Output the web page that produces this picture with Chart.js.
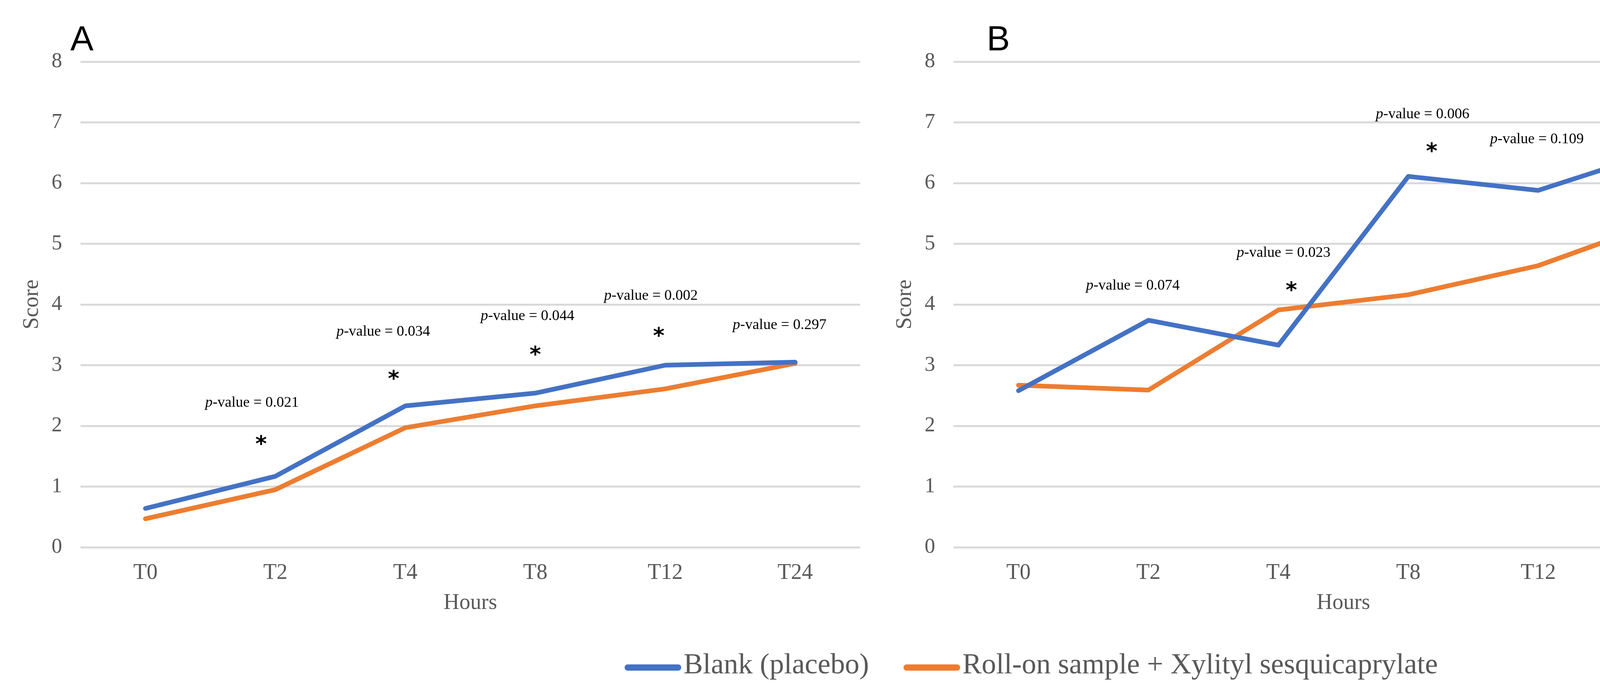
<!DOCTYPE html>
<html>
<head>
<meta charset="utf-8">
<title>Score over hours</title>
<script src="https://cdn.jsdelivr.net/npm/chart.js@4.4.1/dist/chart.umd.min.js"></script>
<style>
  body { margin: 0; width: 4470px; height: 1765px; background: #fff; overflow: hidden; position: relative; }
  .panel { position: absolute; top: 0; width: 2235px; height: 1600px; }
  .letter { position: absolute; top: 54px; font: 89px/89px "Liberation Sans", sans-serif; color: #000; }
  #legend { position: absolute; left: 1599px; top: 1655px; display: flex; align-items: center;
            font: 74px/90px "Liberation Serif", serif; color: #595959; white-space: nowrap; }
  .item { display: flex; align-items: center; margin-right: 88px; }
  .swatch { width: 145px; height: 16px; border-radius: 8px; margin-right: 6px; position: relative; top: 10px; }
</style>
</head>
<body>
<div class="panel" style="left:0"><canvas id="chartA"></canvas></div>
<div class="panel" style="left:2235px"><canvas id="chartB"></canvas></div>
<div class="letter" style="left:180px">A</div>
<div class="letter" style="left:2526px">B</div>
<div id="legend"></div>
<script>
'use strict';
const SERIF = '"Liberation Serif", "DejaVu Serif", serif';

const categories = ['T0', 'T2', 'T4', 'T8', 'T12', 'T24'];
const seriesNames = ['Blank (placebo)', 'Roll-on sample + Xylityl sesquicaprylate'];
const seriesColors = ['#4472C4', '#ED7D31'];

// panel A
const blankA = [0.64, 1.17, 2.33, 2.54, 3.00, 3.05];
const rollOnA = [0.47, 0.95, 1.97, 2.33, 2.61, 3.03];
const pTextA = ['0.021', '0.034', '0.044', '0.002', '0.297'];
const pAtA = [0.82, 1.83, 2.94, 3.89, 4.88];      // category position of the label
const pLevelA = [2.38, 3.55, 3.81, 4.14, 3.66];   // score level of the label
const starAtA = [0.89, 1.91, 3.00, 3.95];
const starLevelA = [1.77, 2.84, 3.24, 3.55];

// panel B
const blankB = [2.58, 3.74, 3.33, 6.11, 5.88, 6.57];
const rollOnB = [2.67, 2.59, 3.91, 4.16, 4.64, 5.41];
const pTextB = ['0.074', '0.023', '0.006', '0.109', '0.153'];
const pAtB = [0.88, 2.04, 3.11, 3.99, 4.94];
const pLevelB = [4.31, 4.85, 7.13, 6.72, 7.31];
const starAtB = [2.10, 3.18];
const starLevelB = [4.30, 6.59];

Chart.defaults.font.family = SERIF;
Chart.defaults.color = '#595959';

function makePanel(id, blank, rollOn, pText, pAt, pLevel, starAt, starLevel) {
    // p-values and asterisks, placed through the chart scales
    const notes = {
        id: 'notes',
        afterDatasetsDraw(chart) {
            const { ctx, scales } = chart;
            ctx.save();
            ctx.fillStyle = '#000';
            ctx.textAlign = 'left';
            ctx.textBaseline = 'middle';
            pText.forEach((txt, i) => {
                const cx = scales.x.getPixelForValue(pAt[i]);
                const cy = scales.y.getPixelForValue(pLevel[i]);
                const rest = '-value = ' + txt;
                ctx.font = 'italic 38px ' + SERIF;
                const w1 = ctx.measureText('p').width;
                ctx.font = '38px ' + SERIF;
                const w2 = ctx.measureText(rest).width;
                const left = cx - (w1 + w2) / 2;
                ctx.font = 'italic 38px ' + SERIF;
                ctx.fillText('p', left, cy);
                ctx.font = '38px ' + SERIF;
                ctx.fillText(rest, left + w1, cy);
            });
            ctx.font = 'bold 56px "DejaVu Sans", sans-serif';
            ctx.textAlign = 'center';
            ctx.textBaseline = 'alphabetic';
            const m = ctx.measureText('*');
            const mid = (m.actualBoundingBoxAscent - m.actualBoundingBoxDescent) / 2;
            starAt.forEach((sx, i) => {
                ctx.fillText('*', scales.x.getPixelForValue(sx), scales.y.getPixelForValue(starLevel[i]) + mid);
            });
            ctx.restore();
        }
    };

    return new Chart(document.getElementById(id), {
        type: 'line',
        data: {
            labels: categories,
            datasets: [blank, rollOn].map((values, i) => ({
                label: seriesNames[i],
                data: values,
                borderColor: seriesColors[i],
                backgroundColor: seriesColors[i],
                borderWidth: 12,
                borderCapStyle: 'round',
                borderJoinStyle: 'round',
                pointRadius: 0,
                tension: 0,
                fill: false
            }))
        },
        options: {
            responsive: true,
            maintainAspectRatio: false,
            devicePixelRatio: 1,
            animation: false,
            layout: { padding: { top: 158, right: 33, bottom: 21, left: 0 } },
            plugins: { legend: { display: false }, tooltip: { enabled: false } },
            scales: {
                x: {
                    offset: true,
                    grid: { display: false, drawTicks: false },
                    border: { display: false },
                    ticks: { padding: 33, font: { size: 56 } },
                    title: { display: true, text: 'Hours', font: { size: 56 }, padding: { top: 0, bottom: 0 } },
                    afterFit: s => { s.height = 177; }
                },
                y: {
                    min: 0,
                    max: 8,
                    grid: { color: '#D9D9D9', lineWidth: 5, drawTicks: false },
                    border: { display: false },
                    ticks: { stepSize: 1, padding: 47, font: { size: 54 } },
                    title: { display: true, text: 'Score', font: { size: 56 }, padding: { top: 49, bottom: 0 } },
                    afterFit: s => { s.width = 206; }
                }
            }
        },
        plugins: [notes]
    });
}

makePanel('chartA', blankA, rollOnA, pTextA, pAtA, pLevelA, starAtA, starLevelA);
makePanel('chartB', blankB, rollOnB, pTextB, pAtB, pLevelB, starAtB, starLevelB);

// shared legend under both panels
const legend = document.getElementById('legend');
seriesNames.forEach((name, i) => {
    const item = document.createElement('div');
    item.className = 'item';
    const swatch = document.createElement('span');
    swatch.className = 'swatch';
    swatch.style.background = seriesColors[i];
    const text = document.createElement('span');
    text.textContent = name;
    item.appendChild(swatch);
    item.appendChild(text);
    legend.appendChild(item);
});
</script>
</body>
</html>
